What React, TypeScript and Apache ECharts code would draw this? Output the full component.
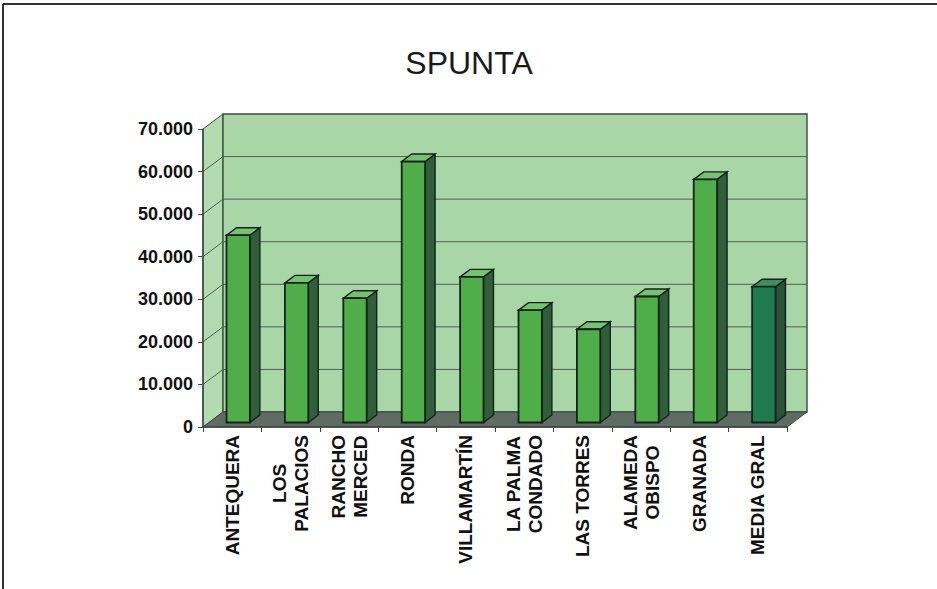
import React, { useEffect, useRef } from "react";
import * as echarts from "echarts";

const titleText = "SPUNTA";
const categories = [
  "ANTEQUERA",
  "LOS\nPALACIOS",
  "RANCHO\nMERCED",
  "RONDA",
  "VILLAMARTÍN",
  "LA PALMA\nCONDADO",
  "LAS TORRES",
  "ALAMEDA\nOBISPO",
  "GRANADA",
  "MEDIA GRAL",
];
const values = [44000, 32800, 29200, 61300, 34200, 26400, 21900, 29600, 57100, 31900];
const yTicks = [0, 10000, 20000, 30000, 40000, 50000, 60000, 70000];

const FONT = "Liberation Sans, Arial, sans-serif";
const DX = 20;
const DY = 15;
const FRONT = 0.3;
const BACK = 0.8;

function fmt(v: number) {
  return String(v).replace(/\B(?=(\d{3})+(?!\d))/g, ".");
}

export default function App() {
  const ref = useRef<HTMLDivElement>(null);
  useEffect(() => {
    document.body.style.margin = "0";
    const chart = echarts.init(ref.current!, null, { renderer: "svg" });
    const avgIndex = categories.length - 1;
    const option: any = {
      animation: false,
      backgroundColor: "#ffffff",
      title: {
        text: titleText,
        left: 464,
        top: 42,
        textAlign: "center",
        textStyle: { fontSize: 32, fontWeight: "normal", fontFamily: FONT, color: "#1a1a1a" },
      },
      graphic: [
        { type: "line", shape: { x1: 3, y1: 4, x2: 3, y2: 589 }, style: { stroke: "#333", lineWidth: 2 } },
        { type: "line", shape: { x1: 3, y1: 4, x2: 937, y2: 4 }, style: { stroke: "#333", lineWidth: 2 } },
      ],
      grid: { left: 203, top: 129, width: 584, height: 298 },
      xAxis: {
        type: "category",
        data: categories,
        z: 5,
        axisLine: { show: true, lineStyle: { color: "#3a463f", width: 1.5 } },
        axisTick: { show: true, length: 5, interval: 0, lineStyle: { color: "#3a463f" } },
        axisLabel: {
          interval: 0,
          rotate: 90,
          margin: 8,
          formatter: (v: string) => v.split("\n").map((l) => `{c|${l}}`).join("\n"),
          rich: {
            c: { align: "center", fontSize: 19, fontWeight: "bold", fontFamily: FONT, color: "#111", lineHeight: 22 },
          },
        },
      },
      yAxis: {
        type: "value",
        min: 0,
        max: 70000,
        interval: 10000,
        z: 5,
        axisLine: { show: true, lineStyle: { color: "#3a463f", width: 1.5 } },
        axisTick: { show: true, length: 5, lineStyle: { color: "#3a463f" } },
        splitLine: { show: false },
        axisLabel: {
          margin: 10,
          formatter: (v: number) => fmt(v),
          fontSize: 18,
          fontWeight: "bold",
          fontFamily: FONT,
          color: "#111",
        },
      },
      series: [
        {
          type: "custom",
          z: 1,
          clip: false,
          silent: true,
          data: [[0, 0]],
          renderItem: (params: any, api: any) => {
            const cs = params.coordSys;
            const L = cs.x;
            const T = cs.y;
            const R = cs.x + cs.width;
            const B = cs.y + cs.height;
            const edge = "#3c4a40";
            const children: any[] = [
              {
                type: "polygon",
                shape: { points: [[L, T], [L + DX, T - DY], [L + DX, B - DY], [L, B]] },
                style: { fill: "#b2dbb0", stroke: edge, lineWidth: 1 },
              },
              {
                type: "rect",
                shape: { x: L + DX, y: T - DY, width: R - L, height: B - T },
                style: { fill: "#a8d6a6", stroke: edge, lineWidth: 1.4 },
              },
              {
                type: "polygon",
                shape: { points: [[L, B], [L + DX, B - DY], [R + DX, B - DY], [R, B]] },
                style: { fill: "#5f6b65", stroke: "#3a4440", lineWidth: 1 },
              },
            ];
            yTicks.forEach((t) => {
              if (t === 0 || t === 70000) return;
              const y = api.coord([0, t])[1];
              children.push({
                type: "line",
                shape: { x1: L + DX, y1: y - DY, x2: R + DX, y2: y - DY },
                style: { stroke: "#4f5f52", lineWidth: 1 },
              });
              children.push({
                type: "line",
                shape: { x1: L, y1: y, x2: L + DX, y2: y - DY },
                style: { stroke: "#4f5f52", lineWidth: 1 },
              });
            });
            return { type: "group", children };
          },
        },
        {
          type: "custom",
          z: 3,
          clip: false,
          data: values.map((v, i) => [i, v]),
          encode: { x: 0, y: 1 },
          renderItem: (params: any, api: any) => {
            const i = api.value(0);
            const v = api.value(1);
            const top = api.coord([i, v]);
            const base = api.coord([i, 0]);
            const bw = api.size([1, 0])[0];
            const w = bw * 0.4;
            const cx = top[0] + DX * FRONT;
            const xl = cx - w / 2;
            const xr = cx + w / 2;
            const yt = top[1] - DY * FRONT;
            const yb = base[1] - DY * FRONT;
            const ddx = DX * (BACK - FRONT);
            const ddy = DY * (BACK - FRONT);
            const isAvg = i === avgIndex;
            const front = isAvg ? "#1f7b4d" : "#4fae49";
            const side = isAvg ? "#28503a" : "#2f5e38";
            const topc = isAvg ? "#3f8f5e" : "#78c172";
            const stroke = "#15231a";
            return {
              type: "group",
              children: [
                {
                  type: "polygon",
                  shape: { points: [[xr, yt], [xr + ddx, yt - ddy], [xr + ddx, yb - ddy], [xr, yb]] },
                  style: { fill: side, stroke, lineWidth: 1.4 },
                },
                {
                  type: "polygon",
                  shape: { points: [[xl, yt], [xr, yt], [xr + ddx, yt - ddy], [xl + ddx, yt - ddy]] },
                  style: { fill: topc, stroke, lineWidth: 1.4 },
                },
                {
                  type: "rect",
                  shape: { x: xl, y: yt, width: w, height: yb - yt },
                  style: { fill: front, stroke, lineWidth: 1.8 },
                },
              ],
            };
          },
        },
      ],
    };
    chart.setOption(option);
    return () => chart.dispose();
  }, []);
  return <div ref={ref} style={{ width: 937, height: 589 }} />;
}
